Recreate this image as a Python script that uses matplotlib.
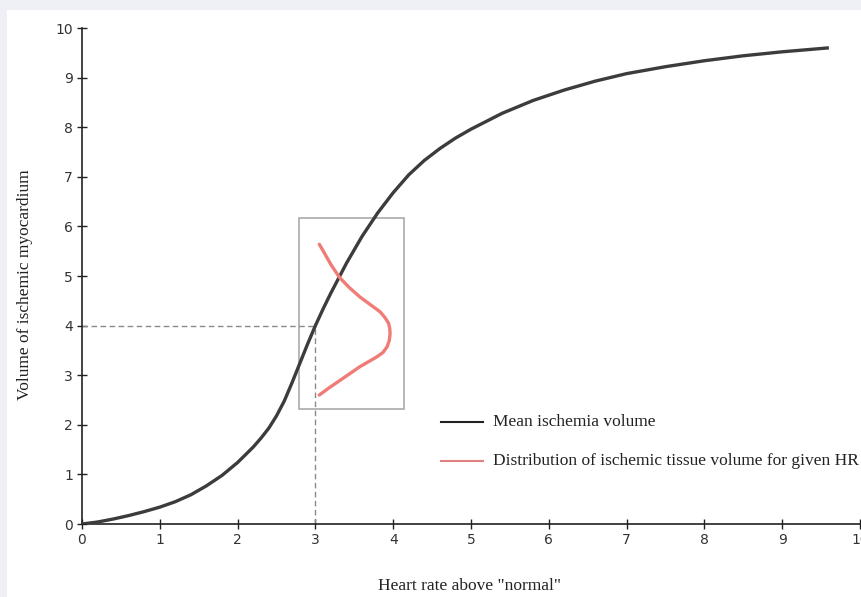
import matplotlib.pyplot as plt
from matplotlib.patches import Rectangle

# mean ischemia volume curve
hr = [0, 0.2, 0.4, 0.6, 0.8, 1.0, 1.2, 1.4, 1.6, 1.8, 2.0, 2.2, 2.3, 2.4, 2.5, 2.6, 2.7,
      2.8, 2.9, 3.0, 3.1, 3.2, 3.4, 3.6, 3.8, 4.0, 4.2, 4.4, 4.6, 4.8, 5.0, 5.4, 5.8,
      6.2, 6.6, 7.0, 7.5, 8.0, 8.5, 9.0, 9.6]
volume = [0, 0.04, 0.10, 0.17, 0.25, 0.34, 0.45, 0.59, 0.77, 0.98, 1.24, 1.55, 1.73, 1.93, 2.18,
          2.48, 2.85, 3.24, 3.63, 4.0, 4.34, 4.66, 5.26, 5.8, 6.27, 6.68, 7.04, 7.33, 7.57, 7.78,
          7.96, 8.28, 8.54, 8.75, 8.93, 9.08, 9.22, 9.34, 9.44, 9.52, 9.6]

# distribution of ischemic tissue volume at HR = 3
dist_x = [3.05, 3.12, 3.2, 3.31, 3.44, 3.57, 3.7, 3.83, 3.89, 3.94, 3.955, 3.96, 3.95,
          3.92, 3.87, 3.79, 3.68, 3.57, 3.45, 3.32, 3.18, 3.05]
dist_y = [5.64, 5.45, 5.23, 4.97, 4.76, 4.58, 4.43, 4.28, 4.17, 4.05, 3.95, 3.84, 3.7,
          3.57, 3.46, 3.37, 3.27, 3.17, 3.04, 2.9, 2.75, 2.6]

box = (2.79, 2.31, 4.14, 6.16)  # x0, y0, x1, y1
mark_hr, mark_vol = 3, 4

fig = plt.figure(figsize=(8.61, 5.97), dpi=100)
fig.patch.set_facecolor('#eef0f6')
fig.patches.append(Rectangle((7 / 861, 0), 1, 1 - 10 / 597, transform=fig.transFigure,
                             facecolor='white', edgecolor='none', zorder=-5))

ax = fig.add_axes([82 / 861, 73 / 597, 778 / 861, 496 / 597])
ax.set_facecolor('none')

ax.plot(hr, volume, color='#3c3c3c', lw=2.4, solid_capstyle='butt',
        solid_joinstyle='round', zorder=3)
ax.plot(dist_x, dist_y, color='#f07c78', lw=2.4, solid_capstyle='round',
        solid_joinstyle='round', zorder=4)

ax.add_patch(Rectangle((box[0], box[1]), box[2] - box[0], box[3] - box[1],
                       fill=False, edgecolor='#aaaaaa', lw=1.2, zorder=2))
ax.plot([0, mark_hr], [mark_vol, mark_vol], color='#8a8a8a', lw=1, ls=(0, (4, 2.5)), zorder=2)
ax.plot([mark_hr, mark_hr], [0, mark_vol], color='#8a8a8a', lw=1, ls=(0, (4, 2.5)), zorder=2)

# hand-drawn legend
serif = 'Liberation Serif'
ax.plot([4.62, 5.15], [2.05, 2.05], color='#222222', lw=1.5, clip_on=False)
ax.text(5.28, 2.05, 'Mean ischemia volume', fontsize=12.5, family=serif,
        va='center', ha='left', color='#222222')
ax.plot([4.62, 5.15], [1.28, 1.28], color='#e08080', lw=1.5, clip_on=False)
ax.text(5.28, 1.28, 'Distribution of ischemic tissue volume for given HR', fontsize=12.5,
        family=serif, va='center', ha='left', color='#222222')

ax.set_xlim(0, 10)
ax.set_ylim(0, 10)
ax.set_xticks(range(0, 11))
ax.set_yticks(range(0, 11))
for s in ['top', 'right']:
    ax.spines[s].set_visible(False)
for s in ['left', 'bottom']:
    ax.spines[s].set_color('#222222')
    ax.spines[s].set_linewidth(1.2)
ax.tick_params(direction='inout', length=7, width=1, color='#222222',
               labelsize=10, labelcolor='#333333', pad=3)

fig.text(470 / 861, 1 - 586 / 597, 'Heart rate above "normal"', fontsize=12.5, family=serif,
         ha='center', va='center', color='#222222')
fig.text(25 / 861, 1 - 285 / 597, 'Volume of ischemic myocardium', fontsize=12.5, family=serif,
         ha='center', va='center', rotation=90, color='#222222')

plt.savefig('out.png', dpi=100)
